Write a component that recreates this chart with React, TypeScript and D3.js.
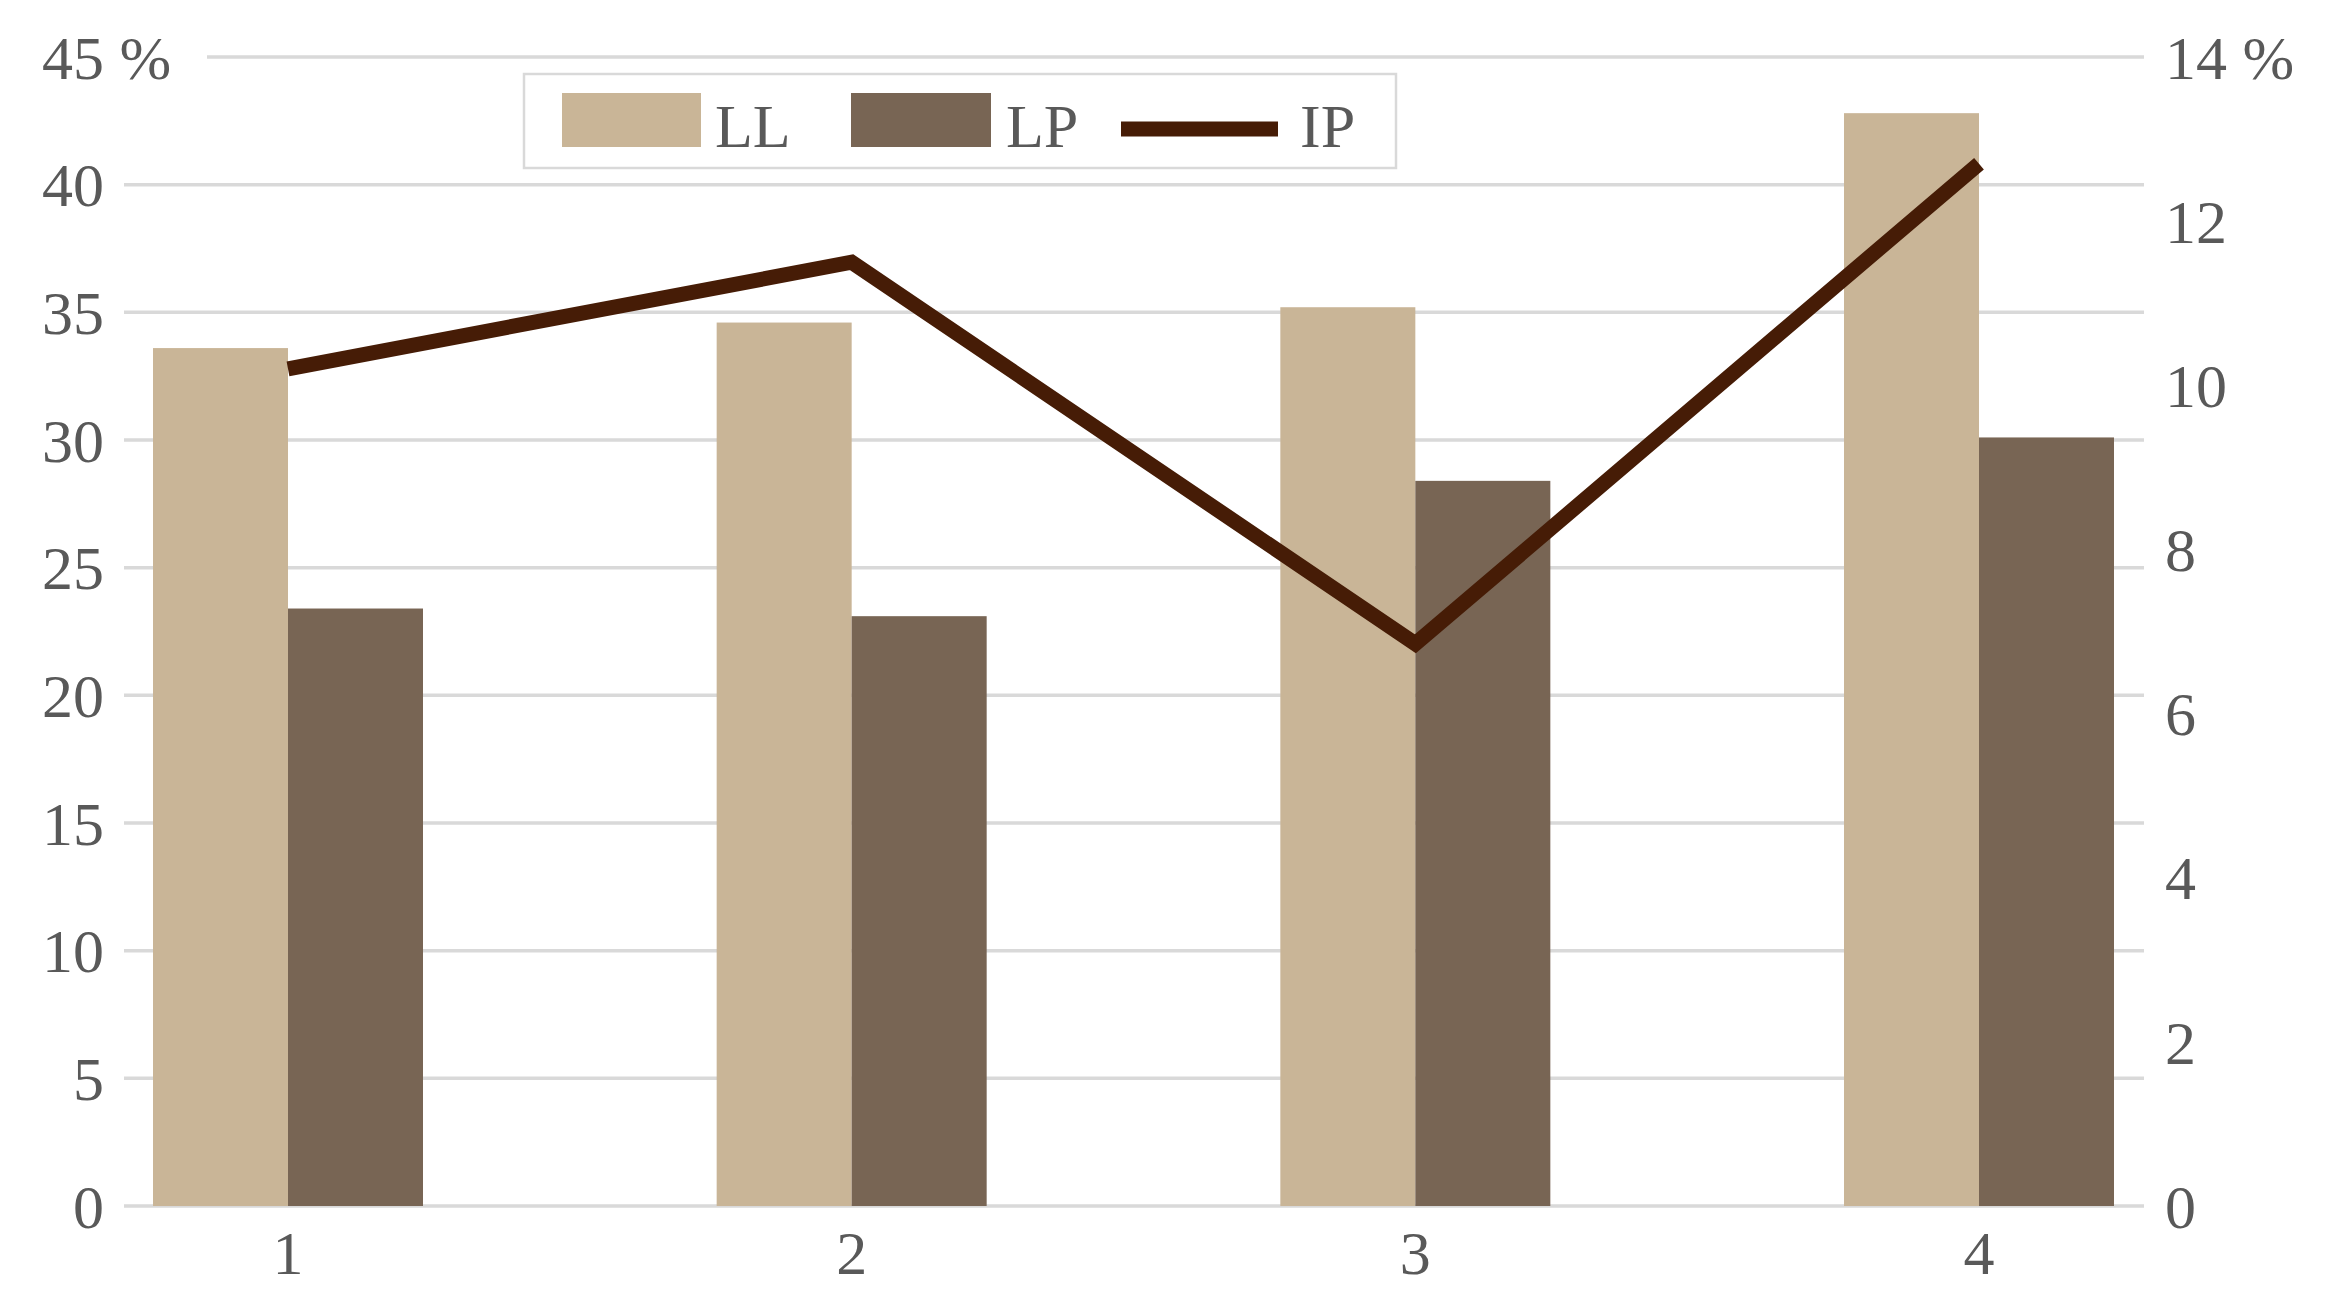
import * as d3 from "d3";

// chart values
const categories = ["1", "2", "3", "4"];
const llValues = [33.6, 34.6, 35.2, 42.8];
const lpValues = [23.4, 23.1, 28.4, 30.1];
const ipValues = [10.2, 11.5, 6.85, 12.7];
const leftTicks = [0, 5, 10, 15, 20, 25, 30, 35, 40, 45];
const rightTicks = [0, 2, 4, 6, 8, 10, 12, 14];
const seriesNames = ["LL", "LP"];

const WIDTH = 2326;
const HEIGHT = 1305;
const FONT = "'Liberation Serif', 'Times New Roman', serif";
const TEXT_COLOR = "#595959";
const LL_COLOR = "#c9b597";
const LP_COLOR = "#786554";
const IP_COLOR = "#461c06";
const GRID_COLOR = "#d9d9d9";

const App = () => {
  const plotLeft = 124;
  const plotRight = 2144;
  const plotTop = 57;
  const plotBottom = 1206;

  const yLeft = d3.scaleLinear().domain([0, 45]).range([plotBottom, plotTop]);
  const yRight = d3.scaleLinear().domain([0, 14]).range([plotBottom, plotTop]);

  // category centres; each group holds two bars side by side
  const xCenter = d3.scalePoint().domain(categories).range([288, 1979]);
  const xSub = d3.scaleBand().domain(seriesNames).range([-135, 135]).padding(0);

  const ipLine = d3
    .line<number>()
    .x((d, i) => xCenter(categories[i]) as number)
    .y((d) => yRight(d));

  const series = [
    { name: "LL", values: llValues, color: LL_COLOR },
    { name: "LP", values: lpValues, color: LP_COLOR },
  ];

  const topTick = leftTicks[leftTicks.length - 1];

  return (
    <svg
      width={WIDTH}
      height={HEIGHT}
      style={{ position: "absolute", left: 0, top: 0, background: "#fff" }}
      fontFamily={FONT}
    >
      {/* gridlines (the top one is cut by the wide "45 %" label) */}
      <g>
        {leftTicks.map((t) => (
          <line
            key={t}
            x1={t === topTick ? 207 : plotLeft}
            x2={plotRight}
            y1={yLeft(t)}
            y2={yLeft(t)}
            stroke={GRID_COLOR}
            strokeWidth={3.5}
          />
        ))}
      </g>

      {/* left axis labels */}
      <g fontSize={62} fill={TEXT_COLOR}>
        {leftTicks.map((t) => (
          <text key={t} x={104} y={yLeft(t)} dy="0.35em" textAnchor="end">
            {t}
            {t === topTick && (
              <tspan x={104} textAnchor="start">
                {"\u00a0%"}
              </tspan>
            )}
          </text>
        ))}
      </g>

      {/* right axis labels */}
      <g fontSize={62} fill={TEXT_COLOR}>
        {rightTicks.map((t, i) => (
          <text key={t} x={2165} y={yRight(t)} dy="0.35em" textAnchor="start">
            {i === rightTicks.length - 1 ? `${t}\u00a0%` : t}
          </text>
        ))}
      </g>

      {/* bars */}
      <g>
        {series.map((s) =>
          s.values.map((v, i) => (
            <rect
              key={`${s.name}-${i}`}
              x={(xCenter(categories[i]) as number) + (xSub(s.name) as number)}
              y={yLeft(v)}
              width={xSub.bandwidth()}
              height={yLeft(0) - yLeft(v)}
              fill={s.color}
            />
          ))
        )}
      </g>

      {/* IP line on the secondary axis */}
      <path
        d={ipLine(ipValues) || ""}
        fill="none"
        stroke={IP_COLOR}
        strokeWidth={15}
        strokeLinejoin="miter"
      />

      {/* category labels */}
      <g fontSize={62} fill={TEXT_COLOR}>
        {categories.map((c) => (
          <text key={c} x={xCenter(c)} y={1252} dy="0.35em" textAnchor="middle">
            {c}
          </text>
        ))}
      </g>

      {/* legend */}
      <g>
        <rect x={524} y={74} width={872} height={94} fill="#fff" stroke={GRID_COLOR} strokeWidth={2.5} />
        <rect x={562} y={93} width={139} height={54} fill={LL_COLOR} />
        <text x={715} y={147} fontSize={62} fill={TEXT_COLOR}>
          LL
        </text>
        <rect x={851} y={93} width={140} height={54} fill={LP_COLOR} />
        <text x={1006} y={147} fontSize={62} fill={TEXT_COLOR}>
          LP
        </text>
        <line x1={1121} x2={1278} y1={129} y2={129} stroke={IP_COLOR} strokeWidth={15} />
        <text x={1300} y={147} fontSize={62} fill={TEXT_COLOR}>
          IP
        </text>
      </g>
    </svg>
  );
};

export default App;
